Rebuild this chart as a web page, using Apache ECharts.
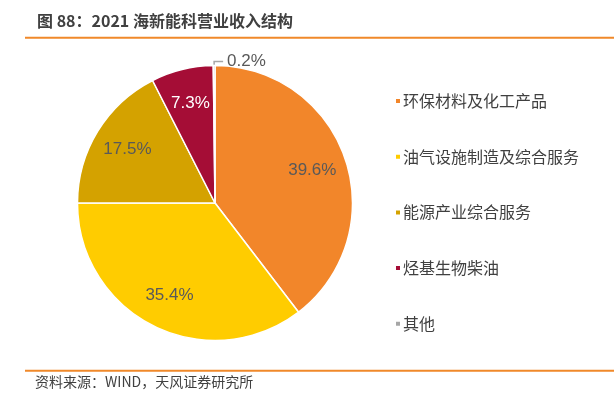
<!DOCTYPE html>
<html><head><meta charset="utf-8">
<script src="https://cdn.jsdelivr.net/npm/echarts@6/dist/echarts.min.js"></script>
<style>html,body{margin:0;padding:0;background:#fff;}#c{width:614px;height:404px;}</style>
</head><body><div id="c"></div>
<script>
const title = '图 88：2021 海新能科营业收入结构';
const source = '资料来源：WIND，天风证券研究所';
const categories = ['环保材料及化工产品','油气设施制造及综合服务','能源产业综合服务','烃基生物柴油','其他'];
const values = [39.6, 35.4, 17.5, 7.3, 0.2];
const palette = ['#F2862A','#FFCC00','#D4A200','#A50D36','#A6A6A6'];
const labelColors = ['#595959','#595959','#595959','#ffffff','#595959'];

const FONT = '"Noto Sans CJK SC","Microsoft YaHei",sans-serif';
const NUMFONT = 'Arial,"Liberation Sans",sans-serif';
const chart = echarts.init(document.getElementById('c'));
const cx = 215, cy = 203, R = 137.5;
const small = values.length - 1;

chart.setOption({
  animation: false,
  color: palette,
  graphic: [
    {type:'text', left:37, top:13, style:{text:title, font:'bold 16px ' + FONT, fill:'#404040'}},
    {type:'rect', shape:{x:25, y:36.7, width:589, height:2}, style:{fill:'#F0892A'}},
    {type:'rect', shape:{x:25, y:369.7, width:589, height:2}, style:{fill:'#F0892A'}},
    {type:'text', left:35, top:375, style:{text:source, font:'14px ' + FONT, fill:'#404040'}}
  ],
  legend: {
    orient:'vertical', left:389, top:88,
    data: categories,
    itemWidth:6, itemHeight:6, itemGap:39.7,
    icon:'rect',
    textStyle:{fontSize:16, lineHeight:16, color:'#404040', fontFamily:FONT, padding:[0,0,0,-3]}
  },
  series: [
    {
      type:'pie', center:[cx, cy], radius:[0, R],
      startAngle:90, clockwise:true,
      itemStyle:{borderColor:'#fff', borderWidth:1.5},
      emphasis:{disabled:true},
      data: categories.map((n,i)=>({name:n, value:values[i],
        label:{show:i===small}, labelLine:{show:i===small}})),
      label:{position:'outside', formatter:'{c}%', fontSize:17, color:'#595959', fontFamily:NUMFONT},
      labelLine:{length:4, length2:9, lineStyle:{color:'#A6A6A6', width:1.5}},
      labelLayout: function(p){
        if (p.dataIndex !== small || !p.labelLinePoints) return {};
        const pts = p.labelLinePoints;
        const p1 = pts[1];
        const len = Math.abs(pts[2][0]-p1[0]);
        const p2 = [p1[0] + len, pts[2][1]];
        return {x: p2[0] + 4, y: p2[1], align:'left', verticalAlign:'middle',
                labelLinePoints:[pts[0], p1, p2]};
      }
    },
    {
      type:'pie', center:[cx, cy], radius:[62, R],
      startAngle:90, clockwise:true, silent:true,
      itemStyle:{color:'transparent', borderWidth:0},
      emphasis:{disabled:true},
      data: categories.map((n,i)=>({name:n, value:values[i],
        label:{show:i!==small, color:labelColors[i]}})),
      label:{position:'inside', formatter:'{c}%', fontSize:17, fontFamily:NUMFONT},
      labelLine:{show:false}
    }
  ]
});
</script></body></html>
